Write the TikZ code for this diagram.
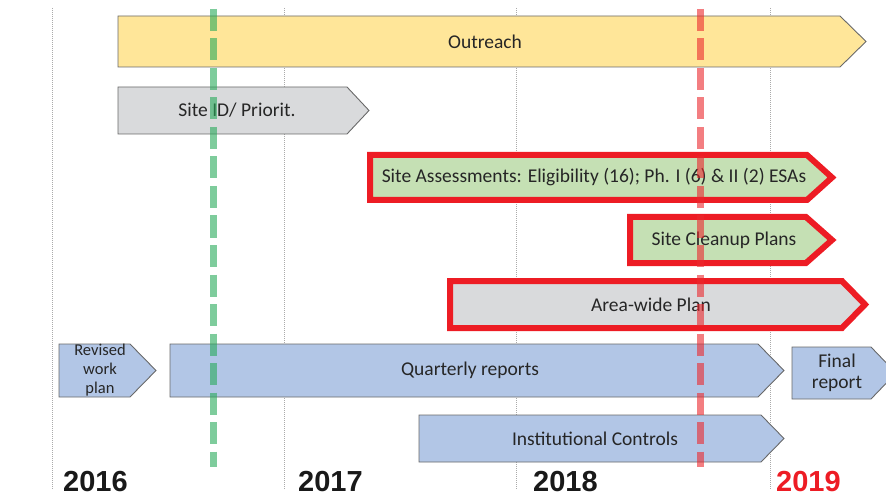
\documentclass[tikz,border=0pt]{standalone}
\usepackage{fontspec}
\setmainfont{Carlito}
\newfontfamily\yearfont{Liberation Sans}
\begin{document}
\definecolor{outreachfill}{RGB}{255,230,153}
\definecolor{greyfill}{RGB}{217,218,220}
\definecolor{greenfill}{RGB}{197,224,180}
\definecolor{bluefill}{RGB}{178,198,230}
\definecolor{edgegrey}{RGB}{105,105,105}
\definecolor{hilite}{RGB}{237,28,36}
\definecolor{txt}{RGB}{38,38,38}
\definecolor{milegreen}{RGB}{40,170,90}
\definecolor{milered}{RGB}{235,40,45}
\definecolor{gridgrey}{RGB}{170,170,170}
% bar(style, left, body end, tip, top, bottom, node name, text x, text)
\newcommand\tlbar[9]{%
  \draw[#1] (#2,#5) -- (#3,#5) -- (#4,{(#5+#6)/2}) -- (#3,#6) -- (#2,#6) -- cycle;
  \node[bartext] (#7) at (#8,{(#5+#6)/2}) {#9};
}
\begin{tikzpicture}[x=1pt,y=-1pt,
  plain/.style={draw=edgegrey,line width=0.9pt,line join=miter},
  flagged/.style={draw=hilite,line width=6pt,line join=miter},
  bartext/.style={text=txt,font=\fontsize{19.5}{21}\selectfont,align=center,inner sep=0pt},
  smalltext/.style={text=txt,font=\fontsize{16.5}{19}\selectfont,align=center,inner sep=0pt},
  gridline/.style={draw=gridgrey,line width=0.6pt,dash pattern=on 1pt off 1pt},
  milestone/.style={line width=7pt,opacity=0.6,dash pattern=on 22pt off 7.5pt},
  yearlabel/.style={font=\yearfont\bfseries\fontsize{29}{32}\selectfont,anchor=base west,inner sep=0pt}]
\useasboundingbox (0,0) rectangle (886,497);
\clip (0,0) rectangle (886,497);

% year separators
\foreach \gx/\gn in {52/g16,284/g17,516/g18,770/g19}{
  \coordinate (\gn top) at (\gx,8);
  \coordinate (\gn bot) at (\gx,490);
  \draw[gridline] (\gn top) -- (\gn bot);
}

% task bars
\tlbar{plain,fill=outreachfill}{118}{840}{866}{16}{67}{outreach}{485}{Outreach}
\tlbar{plain,fill=greyfill}{118}{347}{369}{87}{134}{siteid}{237}{Site ID/ Priorit.}
\tlbar{flagged,fill=greenfill}{370}{807}{832}{155}{200}{assess}{594}{Site Assessments: Eligibility (16); Ph. I (6) \& II (2) ESAs}
\tlbar{flagged,fill=greenfill}{630}{806}{832}{217}{263}{cleanup}{724}{Site Cleanup Plans}
\tlbar{flagged,fill=greyfill}{450}{842}{865}{281}{328}{areawide}{651}{Area-wide Plan}
\tlbar{plain,fill=bluefill}{59}{130}{156}{344}{397}{revised}{100}{}
\node[smalltext] (revisedtxt) at (100,370.5) {Revised\\work\\plan};
\tlbar{plain,fill=bluefill}{170}{758}{784}{344}{397}{quarterly}{470}{Quarterly reports}
\tlbar{plain,fill=bluefill}{792}{871}{896}{347}{399}{final}{837}{Final\\report}
\tlbar{plain,fill=bluefill}{419}{761}{784}{415}{462}{institutional}{595}{Institutional Controls}

% milestone markers
\coordinate (gtop) at (213,9);
\coordinate (gbot) at (213,467);
\coordinate (rtop) at (700,9);
\coordinate (rbot) at (700,467);
\draw[milestone,draw=milegreen] (gtop) -- (gbot);
\draw[milestone,draw=milered] (rtop) -- (rbot);

% years
\node[yearlabel,text=black!90] (y16) at (63,491) {2016};
\node[yearlabel,text=black!90] (y17) at (298,491) {2017};
\node[yearlabel,text=black!90] (y18) at (533,491) {2018};
\node[yearlabel,text=hilite] (y19) at (776,491) {2019};
\end{tikzpicture}
\end{document}
